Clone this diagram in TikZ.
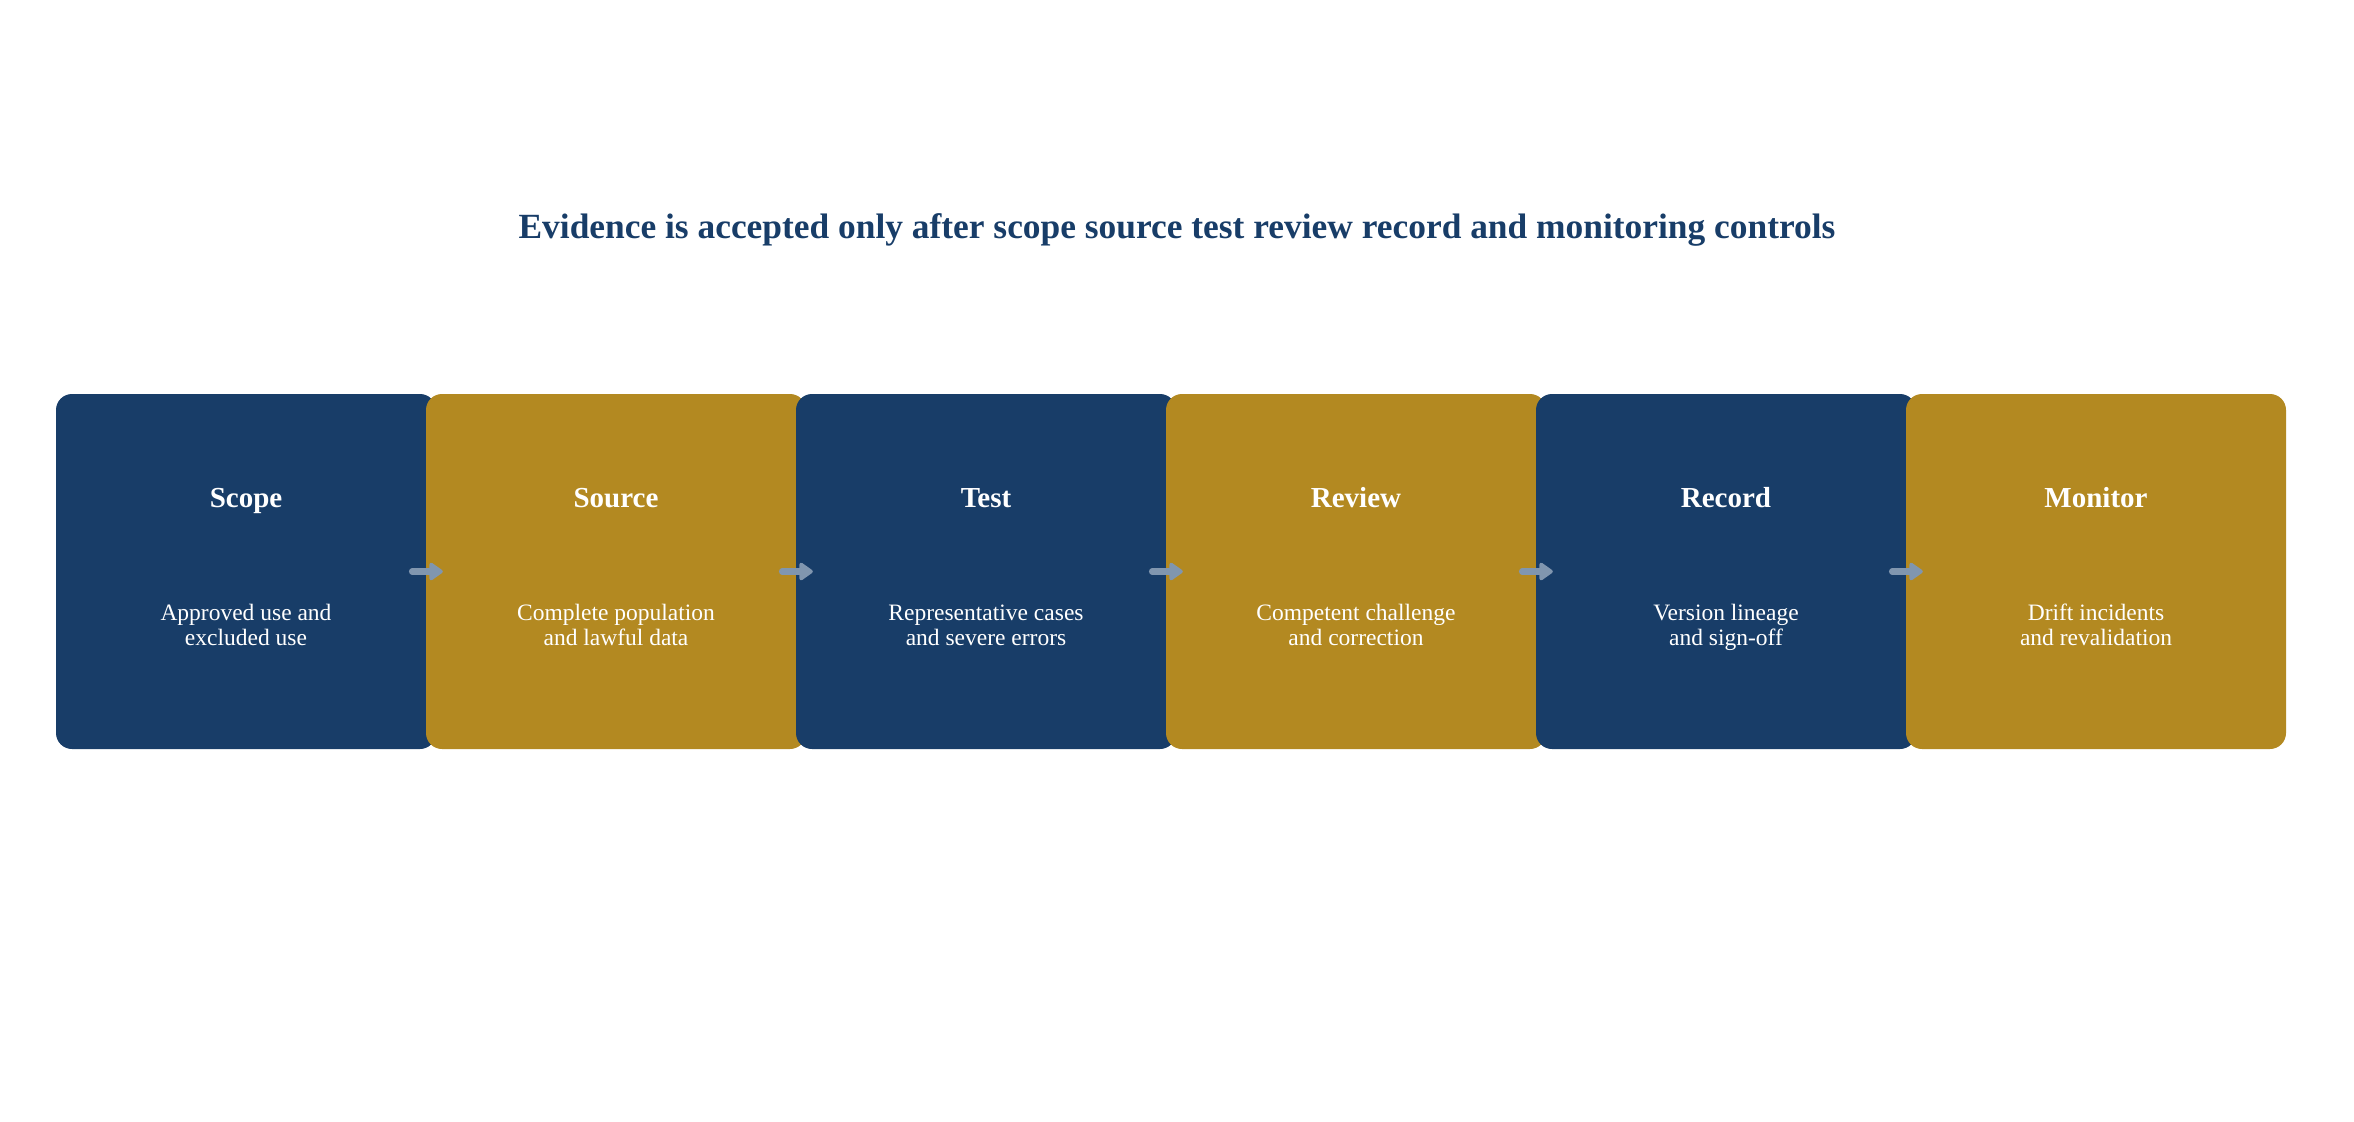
\documentclass[tikz,border=0pt]{standalone}
\usepackage{fontspec}
\setmainfont{Liberation Serif}
\usetikzlibrary{arrows.meta}
\definecolor{navy}{RGB}{24,61,104}
\definecolor{gold}{RGB}{179,137,33}
\definecolor{arrowgrey}{RGB}{128,150,175}
\tikzset{
  stagebox/.style={rounded corners=16pt, minimum width=380pt, minimum height=355pt, inner sep=0pt, draw=none},
  navybox/.style={stagebox, fill=navy},
  goldbox/.style={stagebox, fill=gold},
  stagetitle/.style={anchor=base, text=white, font=\fontsize{29}{33}\selectfont\bfseries},
  stagedesc/.style={anchor=base, text=white, align=center, font=\fontsize{23.5}{24.5}\selectfont},
  flow/.style={draw=arrowgrey, line width=6.5pt, line cap=round, -{Triangle[length=15pt,width=20pt,round]}},
}
\begin{document}
\begin{tikzpicture}[x=1pt,y=-1pt]
\useasboundingbox (0,0) rectangle (2354,1122);
\node[anchor=base, text=navy, font=\fontsize{35.4}{40}\selectfont\bfseries] (title) at (1177,238)
  {Evidence is accepted only after scope source test review record and monitoring controls};
% boxes
\node[navybox] (b1) at (246,571.5) {};
\node[goldbox] (b2) at (616,571.5) {};
\node[navybox] (b3) at (986,571.5) {};
\node[goldbox] (b4) at (1356,571.5) {};
\node[navybox] (b5) at (1726,571.5) {};
\node[goldbox] (b6) at (2096,571.5) {};
% titles
\node[stagetitle] (t1) at (246,507) {Scope};
\node[stagetitle] (t2) at (616,507) {Source};
\node[stagetitle] (t3) at (986,507) {Test};
\node[stagetitle] (t4) at (1356,507) {Review};
\node[stagetitle] (t5) at (1726,507) {Record};
\node[stagetitle] (t6) at (2096,507) {Monitor};
% descriptions
\node[stagedesc] (d1) at (246,645) {Approved use and\\excluded use};
\node[stagedesc] (d2) at (616,645) {Complete population\\and lawful data};
\node[stagedesc] (d3) at (986,645) {Representative cases\\and severe errors};
\node[stagedesc] (d4) at (1356,645) {Competent challenge\\and correction};
\node[stagedesc] (d5) at (1726,645) {Version lineage\\and sign-off};
\node[stagedesc] (d6) at (2096,645) {Drift incidents\\and revalidation};
% arrows
\foreach \a/\b in {b1/b2,b2/b3,b3/b4,b4/b5,b5/b6}
  \draw[flow] ([xshift=-24pt]\a.east) -- ([xshift=17pt]\b.west);
\end{tikzpicture}
\end{document}
